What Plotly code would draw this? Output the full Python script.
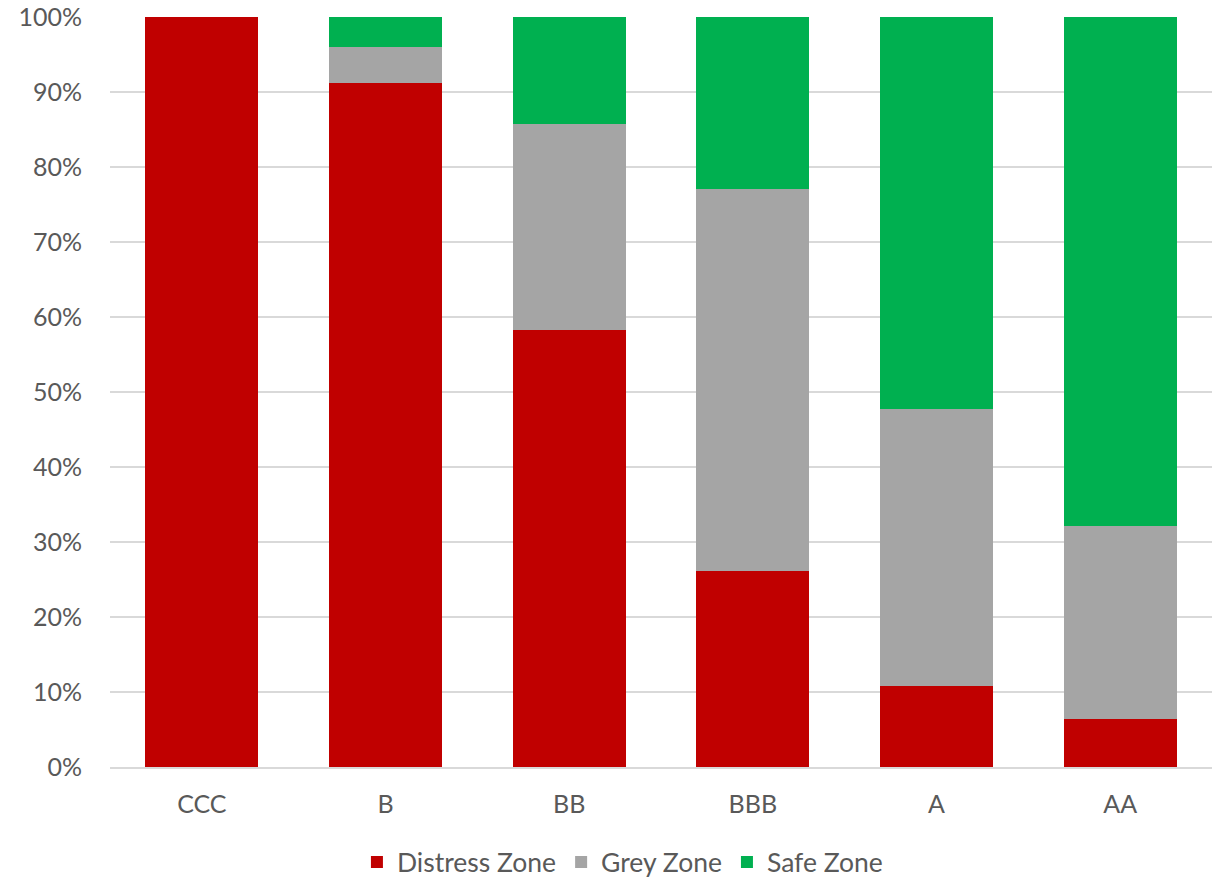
import plotly.graph_objects as go

categories = ["CCC", "B", "BB", "BBB", "A", "AA"]
distress = [100.0, 91.2, 58.3, 26.1, 10.8, 6.4]
grey = [0.0, 4.8, 27.5, 51.0, 37.0, 25.8]
safe = [0.0, 4.0, 14.2, 22.9, 52.2, 67.8]
y_ticks = [0, 10, 20, 30, 40, 50, 60, 70, 80, 90, 100]

series = [
    ("Distress Zone", distress, "#C00000"),
    ("Grey Zone", grey, "#A5A5A5"),
    ("Safe Zone", safe, "#00B050"),
]

fig = go.Figure()
for name, vals, color in series:
    fig.add_trace(go.Bar(
        x=categories, y=[v / 100 for v in vals], name=name,
        marker=dict(color=color, line=dict(width=0)),
    ))

font_family = "Lato, Open Sans, sans-serif"
fig.update_layout(
    barmode="stack",
    bargap=0.385,
    width=1212, height=877,
    margin=dict(l=110, r=0, t=17, b=110, pad=0, autoexpand=False),
    paper_bgcolor="white", plot_bgcolor="white",
    font=dict(family=font_family, size=25, color="#595959"),
    showlegend=True,
    legend=dict(
        orientation="h", x=0.465, xanchor="center", y=-0.127, yanchor="middle",
        font=dict(size=26.5, color="#595959"), traceorder="normal",
    ),
    xaxis=dict(
        type="category", showgrid=False, showline=True, linecolor="#D9D9D9",
        linewidth=1.5, ticks="outside", ticklen=14, tickcolor="rgba(0,0,0,0)",
        tickfont=dict(size=25, color="#595959"),
    ),
    yaxis=dict(
        range=[0, 1], tickvals=[t / 100 for t in y_ticks],
        ticktext=[f"{t}%" for t in y_ticks],
        showgrid=True, gridcolor="#D9D9D9", gridwidth=1.5,
        zeroline=False, showline=False,
        ticks="outside", ticklen=22, tickcolor="rgba(0,0,0,0)",
        tickfont=dict(size=25, color="#595959"),
    ),
)

fig.write_html("out.html")
